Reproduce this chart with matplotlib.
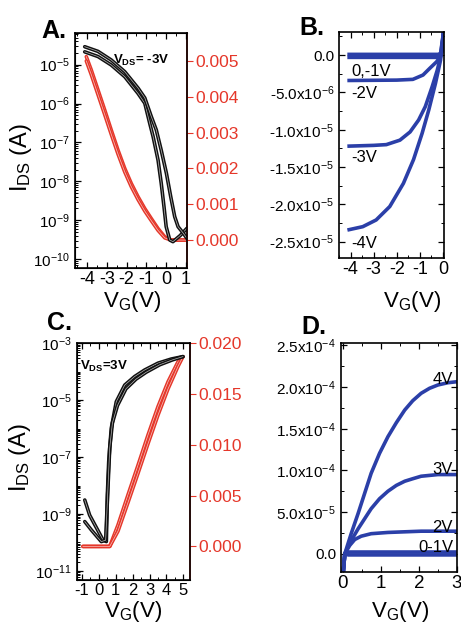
import matplotlib
matplotlib.use("Agg")
import matplotlib.pyplot as plt
from matplotlib.ticker import MultipleLocator, LogLocator, NullFormatter

plt.rcParams['font.family'] = ['Liberation Sans', 'DejaVu Sans']
plt.rcParams['mathtext.fontset'] = 'custom'
plt.rcParams['mathtext.rm'] = 'Liberation Sans'
plt.rcParams['mathtext.it'] = 'Liberation Sans:italic'
plt.rcParams['mathtext.bf'] = 'Liberation Sans:bold'
plt.rcParams['axes.unicode_minus'] = False

BLACK = '#111111'
RED = '#e5372a'
BLUE = '#2b3fa8'

# ---- Panel A: transfer curve, VDS = -3V (log, left) and sqrt-like (linear, right) ----
a_vg_fwd = [-4.11, -3.44, -2.77, -2.09, -1.42, -1.08, -0.83, -0.66, -0.41, -0.25, -0.11,
            0.0, 0.18, 0.34, 0.7, 1.05]
a_id_fwd = [2.14e-5, 1.62e-5, 9.8e-6, 4.9e-6, 1.82e-6, 1.02e-6, 3.1e-7, 1.41e-7, 3.5e-8,
            8.9e-9, 2.2e-9, 6.8e-10, 3.1e-10, 2.8e-10, 4.0e-10, 6.2e-10]
a_vg_bwd = [-4.11, -3.44, -2.77, -2.09, -1.42, -1.08, -0.75, -0.5, -0.25, 0.01, 0.23, 0.43,
            0.6, 0.85, 1.05]
a_id_bwd = [2.9e-5, 2.2e-5, 1.32e-5, 6.6e-6, 2.5e-6, 1.4e-6, 4.6e-7, 2.1e-7, 6.3e-8, 1.62e-8,
            4.0e-9, 1.23e-9, 6.8e-10, 4.7e-10, 3.4e-10]
a_vg_sq = [-4.03, -3.78, -3.44, -3.10, -2.77, -2.43, -2.09, -1.76, -1.42, -1.08, -0.75,
           -0.41, -0.07, 0.26, 1.05]
a_sq_1 = [0.00512, 0.00475, 0.00419, 0.00363, 0.00307, 0.00251, 0.00200, 0.00158, 0.00121,
          0.00088, 0.00060, 0.00032, 0.00009, 0.0, 0.0]
a_sq_2 = [0.00500, 0.00462, 0.00406, 0.00350, 0.00295, 0.00240, 0.00190, 0.00149, 0.00113,
          0.00081, 0.00054, 0.00027, 0.00006, 0.0, 0.0]

# ---- Panel B: output curves (p-type) ----
b_vd_m4 = [-4.06, -3.47, -2.89, -2.30, -1.71, -1.27, -0.90, -0.61, -0.32, -0.10, 0.04, 0.1]
b_id_m4 = [-2.34e-5, -2.3e-5, -2.21e-5, -2.03e-5, -1.72e-5, -1.4e-5, -1.05e-5, -7.35e-6,
           -3.79e-6, -6.7e-7, 3.3e-6, 5e-6]
b_vd_m3 = [-4.06, -3.0, -2.45, -1.86, -1.42, -1.05, -0.76, -0.46, -0.24, -0.03, 0.04, 0.1]
b_id_m3 = [-1.22e-5, -1.21e-5, -1.2e-5, -1.14e-5, -1.03e-5, -8.7e-6, -6.9e-6, -4.2e-6,
           -2.0e-6, 6.7e-7, 3.3e-6, 5e-6]
b_vd_m2 = [-4.06, -2.0, -1.30, -0.86, -0.57, -0.27, -0.12, 0.04, 0.1]
b_id_m2 = [-3.4e-6, -3.35e-6, -3.25e-6, -2.67e-6, -1.78e-6, -8.9e-7, -2.2e-7, 3.3e-6, 5e-6]
b_vd_m1 = [-4.06, -0.3, -0.1, 0.04, 0.1]
b_id_m1 = [-3e-7, -3e-7, -1e-7, 3.3e-6, 5e-6]
b_vd_0 = [-4.06, -0.2, -0.05, 0.04, 0.1]
b_id_0 = [1e-7, 1e-7, 3e-7, 3.3e-6, 5e-6]

# ---- Panel C: transfer curve, VDS = 3V ----
c_vg_1 = [-0.84, -0.55, 0.24, 0.44, 0.50, 0.58, 0.73, 1.03, 1.53, 2.12, 2.71, 3.50, 4.29, 4.98]
c_id_1 = [3.1e-9, 9.1e-10, 1.23e-10, 1.07e-10, 4.7e-9, 6.9e-8, 1.02e-6, 8.9e-6, 3.4e-5,
          6.8e-5, 1.15e-4, 2.0e-4, 2.8e-4, 3.4e-4]
c_vg_2 = [-0.84, -0.45, 0.14, 0.40, 0.48, 0.56, 0.64, 0.80, 1.10, 1.60, 2.20, 2.80, 3.60,
          4.35, 4.98]
c_id_2 = [5.4e-10, 2.75e-10, 1.07e-10, 1.2e-10, 1.5e-9, 1.8e-8, 2.1e-7, 1.6e-6, 6.5e-6,
          2.5e-5, 5.5e-5, 9.6e-5, 1.75e-4, 2.6e-4, 3.4e-4]
c_vg_sq = [-0.95, 0.0, 0.64, 1.13, 1.72, 2.32, 2.91, 3.50, 4.10, 4.69, 4.98]
c_sq_1 = [0, 0, 0, 0.00211, 0.00506, 0.0080, 0.01096, 0.01374, 0.0162, 0.01816, 0.01865]
c_sq_2 = [0, 0, 0, 0.00150, 0.00430, 0.0072, 0.01010, 0.01290, 0.0155, 0.01770, 0.01865]

# ---- Panel D: output curves (n-type) ----
d_vd_4 = [0.02, 0.06, 0.23, 0.41, 0.58, 0.75, 0.97, 1.19, 1.41, 1.63, 1.84, 2.06, 2.28,
          2.50, 2.76, 3.0]
d_id_4 = [-2.2e-5, 0, 2.45e-5, 4.85e-5, 7.25e-5, 9.65e-5, 1.205e-4, 1.405e-4, 1.573e-4,
          1.725e-4, 1.837e-4, 1.926e-4, 1.986e-4, 2.026e-4, 2.053e-4, 2.065e-4]
d_vd_3 = [0.02, 0.06, 0.23, 0.41, 0.58, 0.75, 0.97, 1.19, 1.41, 1.63, 1.84, 2.06, 2.50, 3.0]
d_id_3 = [-2.2e-5, 0, 1.6e-5, 3.0e-5, 4.2e-5, 5.4e-5, 6.6e-5, 7.5e-5, 8.2e-5, 8.7e-5,
          9.0e-5, 9.3e-5, 9.5e-5, 9.5e-5]
d_vd_2 = [0.02, 0.06, 0.19, 0.32, 0.49, 0.75, 1.19, 2.06, 3.0]
d_id_2 = [-2.2e-5, 0, 1.0e-5, 1.7e-5, 2.1e-5, 2.4e-5, 2.55e-5, 2.7e-5, 2.7e-5]
d_vd_01 = [0.02, 0.06, 0.15, 3.0]
d_id_1 = [-2.2e-5, 0, 2.0e-6, 2.0e-6]
d_id_0 = [-2.2e-5, 0, -1.5e-6, -1.5e-6]

W, H = 461, 623
fig = plt.figure(figsize=(W / 100, H / 100), dpi=100)


def box(l, t, r, b):
    return [l / W, 1 - b / H, (r - l) / W, (b - t) / H]


def ftext(x, y, s, **kw):
    fig.text(x / W, 1 - y / H, s, **kw)


def hollow(ax, x, y, c):
    ax.plot(x, y, color=c, lw=2.6, solid_capstyle='round', solid_joinstyle='round')
    ax.plot(x, y, color='white', lw=0.5, alpha=0.7)


def style_in(ax, xsize=13.5):
    ax.tick_params(which='both', direction='in', top=True, right=True, labelsize=11)
    ax.tick_params(which='major', length=4, width=0.9)
    ax.tick_params(which='minor', length=2, width=0.7)
    ax.tick_params(axis='x', labelsize=xsize, pad=2)
    for s in ax.spines.values():
        s.set_linewidth(1.2)


def twin_red(ax, ticks, labels, ylim):
    tw = ax.twinx()
    tw.set_ylim(*ylim)
    tw.set_yticks(ticks)
    tw.set_yticklabels(labels)
    tw.tick_params(axis='y', direction='out', colors=RED, labelsize=12.5, length=4, pad=2)
    tw.spines['right'].set_color(RED)
    tw.spines['right'].set_linewidth(1.2)
    return tw


# ---------- A ----------
axA = fig.add_axes(box(75, 33, 187, 268))
axA.set_yscale('log')
axA.set_xlim(-4.6, 1.05)
axA.set_ylim(10 ** -10.23, 10 ** -4.185)
axA.set_xticks([-4, -3, -2, -1, 0, 1])
axA.xaxis.set_minor_locator(MultipleLocator(0.5))
axA.set_yticks([1e-5, 1e-6, 1e-7, 1e-8, 1e-9, 1e-10])
axA.set_yticklabels(['10$^{-5}$', '10$^{-6}$', '10$^{-7}$', '10$^{-8}$', '10$^{-9}$', '10$^{-10}$'])
axA.yaxis.set_minor_locator(LogLocator(base=10, subs=range(2, 10), numticks=20))
axA.yaxis.set_minor_formatter(NullFormatter())
style_in(axA, xsize=13)
axA.tick_params(right=False, which='both')
twA = twin_red(axA, [0, 0.001, 0.002, 0.003, 0.004, 0.005],
               ['0.000', '0.001', '0.002', '0.003', '0.004', '0.005'], (-0.00078, 0.00578))
hollow(twA, a_vg_sq, a_sq_1, RED)
hollow(twA, a_vg_sq, a_sq_2, RED)
twA.set_zorder(axA.get_zorder() - 1)
axA.patch.set_visible(False)
hollow(axA, a_vg_fwd, a_id_fwd, BLACK)
hollow(axA, a_vg_bwd, a_id_bwd, BLACK)
axA.text(0.59, 0.885, r'V$_\mathbf{DS}$= -3V', transform=axA.transAxes, fontsize=9.5,
         fontweight='bold', ha='center', va='center')

# ---------- B ----------
axB = fig.add_axes(box(339, 32, 444, 258))
axB.set_xlim(-4.5, 0.05)
axB.set_ylim(-2.72e-5, 3.1e-6)
axB.set_xticks([-4, -3, -2, -1, 0])
axB.xaxis.set_minor_locator(MultipleLocator(0.5))
axB.set_yticks([0, -5e-6, -1e-5, -1.5e-5, -2e-5, -2.5e-5])
axB.set_yticklabels(['0.0', '-5.0x10$^{-6}$', '-1.0x10$^{-5}$', '-1.5x10$^{-5}$',
                     '-2.0x10$^{-5}$', '-2.5x10$^{-5}$'])
axB.yaxis.set_minor_locator(MultipleLocator(2.5e-6))
style_in(axB, xsize=13)
for vd, idd in [(b_vd_m4, b_id_m4), (b_vd_m3, b_id_m3), (b_vd_m2, b_id_m2),
                (b_vd_m1, b_id_m1), (b_vd_0, b_id_0)]:
    axB.plot(vd, idd, color=BLUE, lw=2.6)
for x, y, s in [(351, 71, '0,-1V'), (351, 93, '-2V'), (351, 158, '-3V'), (351, 244, '-4V')]:
    ftext(x, y, s, fontsize=12, ha='left', va='center')

# ---------- C ----------
axC = fig.add_axes(box(77, 343, 190, 580))
axC.set_yscale('log')
axC.set_xlim(-1.3, 5.4)
axC.set_ylim(10 ** -11.32, 10 ** -2.99)
axC.set_xticks([-1, 0, 1, 2, 3, 4, 5])
axC.xaxis.set_minor_locator(MultipleLocator(0.5))
axC.set_yticks([1e-3, 1e-5, 1e-7, 1e-9, 1e-11])
axC.set_yticklabels(['10$^{-3}$', '10$^{-5}$', '10$^{-7}$', '10$^{-9}$', '10$^{-11}$'])
axC.yaxis.set_minor_locator(LogLocator(base=10, subs=range(1, 10), numticks=20))
axC.yaxis.set_minor_formatter(NullFormatter())
style_in(axC, xsize=12)
axC.tick_params(right=False, which='both')
twC = twin_red(axC, [0, 0.005, 0.010, 0.015, 0.020],
               ['0.000', '0.005', '0.010', '0.015', '0.020'], (-0.0033, 0.020))
hollow(twC, c_vg_sq, c_sq_1, RED)
hollow(twC, c_vg_sq, c_sq_2, RED)
twC.set_zorder(axC.get_zorder() - 1)
axC.patch.set_visible(False)
hollow(axC, c_vg_1, c_id_1, BLACK)
hollow(axC, c_vg_2, c_id_2, BLACK)
axC.text(0.03, 0.9, r'V$_\mathbf{DS}$=3V', transform=axC.transAxes, fontsize=9.5,
         fontweight='bold', ha='left', va='center')

# ---------- D ----------
axD = fig.add_axes(box(341, 343, 457, 572))
axD.set_xlim(-0.04, 3.0)
axD.set_ylim(-2.2e-5, 2.53e-4)
axD.set_xticks([0, 1, 2, 3])
axD.xaxis.set_minor_locator(MultipleLocator(0.5))
axD.set_yticks([0, 5e-5, 1e-4, 1.5e-4, 2e-4, 2.5e-4])
axD.set_yticklabels(['0.0', '5.0x10$^{-5}$', '1.0x10$^{-4}$', '1.5x10$^{-4}$',
                     '2.0x10$^{-4}$', '2.5x10$^{-4}$'])
axD.yaxis.set_minor_locator(MultipleLocator(2.5e-5))
style_in(axD)
for vd, idd in [(d_vd_4, d_id_4), (d_vd_3, d_id_3), (d_vd_2, d_id_2),
                (d_vd_01, d_id_1), (d_vd_01, d_id_0)]:
    axD.plot(vd, idd, color=BLUE, lw=2.6, solid_joinstyle='round')
for x, y, s in [(453, 380, '4V'), (453, 469, '3V'), (453, 527, '2V'), (453, 547, '0-1V')]:
    ftext(x, y, s, fontsize=12, ha='right', va='center')

# ---------- labels ----------
for x, y, s in [(54, 31, 'A.'), (312, 28, 'B.'), (59, 323, 'C.'), (314, 327, 'D.')]:
    ftext(x, y, s, fontsize=18, fontweight='bold', ha='center', va='center')
for x, y in [(132, 301), (412, 301), (133, 611), (400, 611)]:
    ftext(x, y, r'V$_\mathrm{G}$(V)', fontsize=16, ha='center', va='center')
for x, y in [(21, 157), (20, 457)]:
    ftext(x, y, r'I$_\mathrm{DS}$ (A)', fontsize=17, ha='center', va='center', rotation=90)

fig.savefig('out.png', dpi=100)
